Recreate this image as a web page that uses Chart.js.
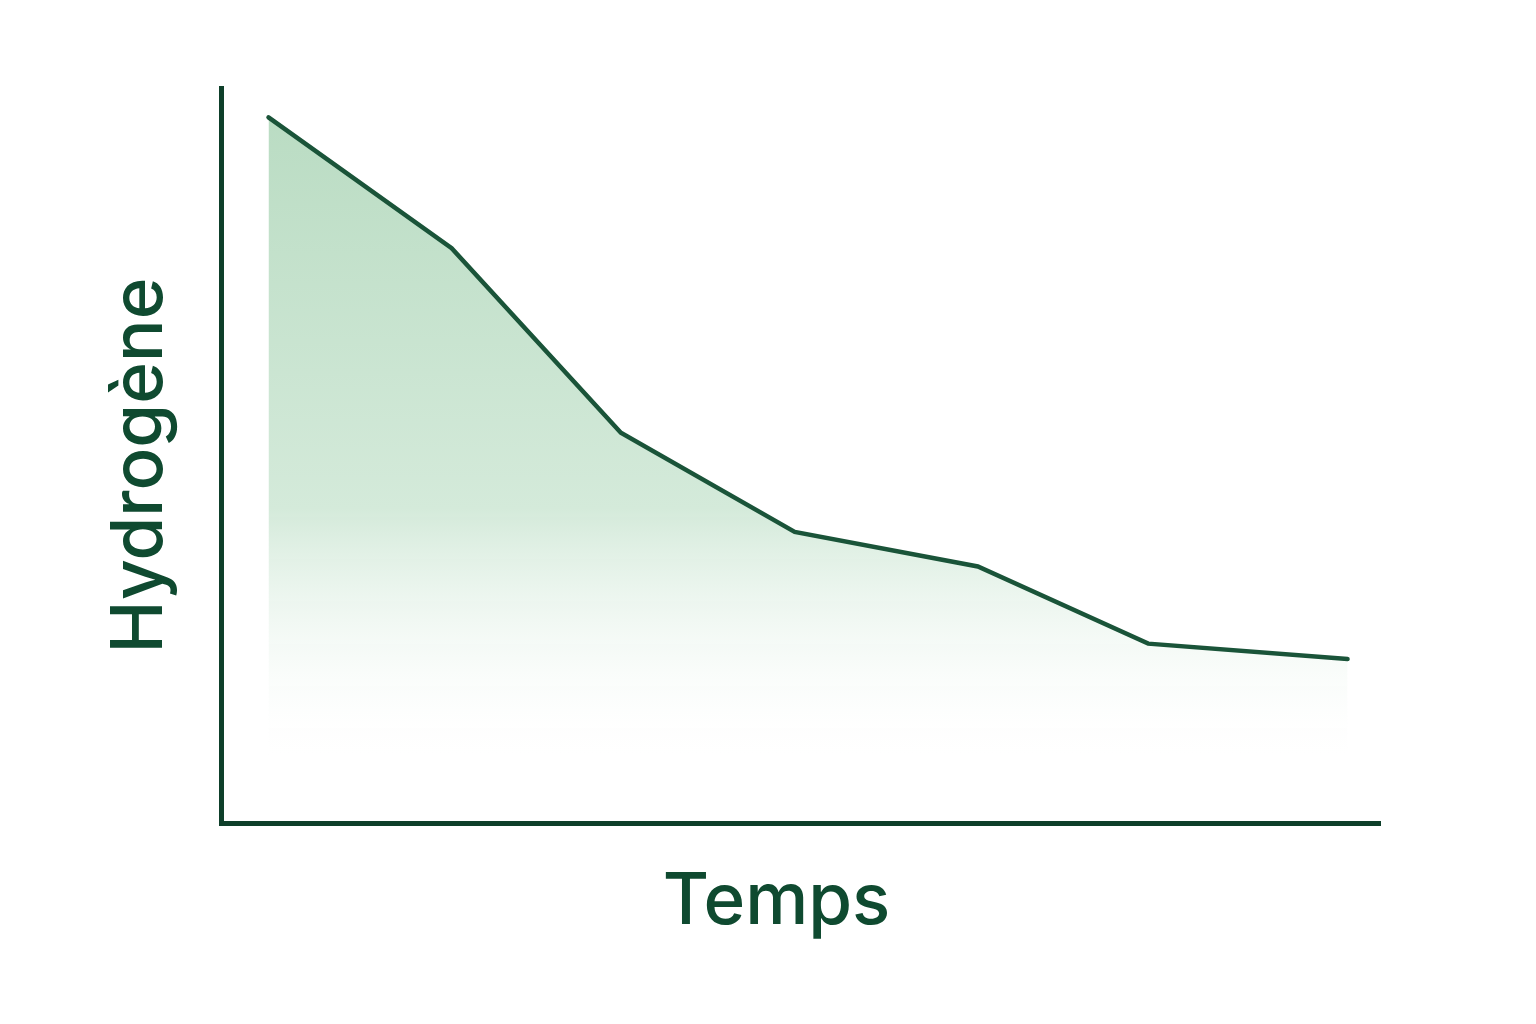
<!DOCTYPE html>
<html lang="fr">
<head>
    <meta charset="UTF-8">
    <title>Hydrogène / Temps</title>
    <script src="https://cdn.jsdelivr.net/npm/chart.js@4.4.2/dist/chart.umd.min.js"></script>
    <style>
        html, body {
          margin: 0;
          padding: 0;
          background: #fff;}
        #wrap {
          width: 1536px;
          height: 1024px;}
    </style>
</head>
<body>
    <div id="wrap"><canvas id="h2Graph"></canvas></div>

<script>
    // values (no tick labels in the original)
    const timeValues = [0.41, 1.99, 3.45, 4.95, 6.53, 8.0, 9.72];
    const hydrogenValues = [96.0, 78.2, 53.1, 39.6, 34.9, 24.4, 22.3];
    const xTitle = 'Temps';
    const yTitle = 'Hydrogène';

    const lineColor = '#1a5439';
    const axisColor = '#0e3f2a';
    const textColor = '#0f4a30';

    // axis titles drawn by hand so they sit where the original puts them
    const titlePlugin = {
        id: 'titles',
        afterDraw(chart) {
            const ctx = chart.ctx;
            const area = chart.chartArea;
            ctx.save();
            ctx.fillStyle = textColor;
            ctx.font = '500 71px Inter, "Liberation Sans", sans-serif';
            ctx.textAlign = 'center';
            ctx.textBaseline = 'alphabetic';
            ctx.fillText(xTitle, (area.left + area.right) / 2 - 24, 924);
            ctx.translate(162, (area.top + area.bottom) / 2 + 10);
            ctx.rotate(-Math.PI / 2);
            ctx.fillText(yTitle, 0, 0);
            ctx.restore();
        }
    };

    const points = timeValues.map((t, i) => ({x: t, y: hydrogenValues[i]}));

    const ctx = document.getElementById('h2Graph').getContext('2d');
    const h2Graph = new Chart(ctx, {
        type: 'line',
        data: {
            datasets: [{
                data: points,
                borderColor: lineColor,
                borderWidth: 4.5,
                pointRadius: 0,
                tension: 0,
                borderCapStyle: 'round',
                fill: 'origin',
                backgroundColor: function(context) {
                    const area = context.chart.chartArea;
                    if (!area) return 'rgba(188,222,198,0.9)';
                    const g = context.chart.ctx.createLinearGradient(0, area.top + 29, 0, 770);
                    g.addColorStop(0, 'rgba(186,220,195,1)');
                    g.addColorStop(0.6, 'rgba(212,234,218,1)');
                    g.addColorStop(1, 'rgba(255,255,255,0)');
                    return g;}
            }]
        },
        options: {
            responsive: true,
            maintainAspectRatio: false,
            animation: false,
            layout: {
                padding: {left: 213, right: 156, top: 88, bottom: 193}},
            plugins: {
                legend: {display: false},
                tooltip: {enabled: false}},
            scales: {
                x: {
                    type: 'linear',
                    min: 0,
                    max: 10,
                    ticks: {display: false},
                    grid: {display: false},
                    border: {display: true, color: axisColor, width: 5}},
                y: {
                    min: 0,
                    max: 100,
                    ticks: {display: false},
                    grid: {display: false},
                    border: {display: true, color: axisColor, width: 5}}}
        },
        plugins: [titlePlugin]
    });
</script>
</body>
</html>
